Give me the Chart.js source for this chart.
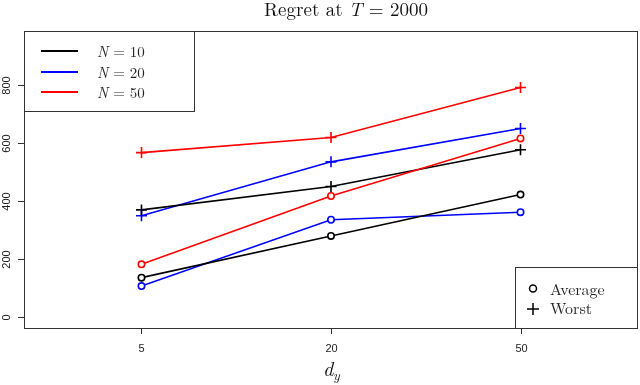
<!DOCTYPE html>
<html lang="en">
<head>
<meta charset="UTF-8">
<title>Regret at T = 2000</title>
<script src="https://cdn.jsdelivr.net/npm/chart.js"></script>
<style>
    body { margin: 0; background: #fff; }
    #wrap { width: 640px; height: 385px; }
</style>
</head>
<body>
<div id="wrap"><canvas id="chartCanvas" width="640" height="385"></canvas></div>
<script>
// values
const categories = ['5', '20', '50'];
const avgN10 = [136, 280, 423];
const avgN20 = [107, 336, 362];
const avgN50 = [182, 418, 617];
const worstN10 = [370, 451, 578];
const worstN20 = [350, 536, 651];
const worstN50 = [568, 620, 793];
const yTicks = [0, 200, 400, 600, 800];

const seriesNames = ['N = 10', 'N = 20', 'N = 50'];
const colors = ['#000000', '#0000ff', '#ff0000'];

function pts(vals) {
    return vals.map((v, i) => ({ x: i + 1, y: v }));
}

function lineSet(vals, color, style) {
    const avg = style === 'circle';
    return {
        data: pts(vals),
        borderColor: color,
        borderWidth: 1.6,
        pointStyle: style,
        pointRadius: avg ? 3.2 : 5.5,
        pointBorderWidth: 1.6,
        pointBorderColor: color,
        pointBackgroundColor: '#ffffff',
        tension: 0,
        fill: false
    };
}

const datasets = [
    lineSet(avgN10, colors[0], 'circle'),
    lineSet(avgN20, colors[1], 'circle'),
    lineSet(avgN50, colors[2], 'circle'),
    lineSet(worstN10, colors[0], 'cross'),
    lineSet(worstN20, colors[1], 'cross'),
    lineSet(worstN50, colors[2], 'cross')
];

// draws the R-style box, ticks, title and both legends
const decor = {
    id: 'decor',
    afterDraw(chart) {
        const ctx = chart.ctx;
        const a = chart.chartArea;
        const xs = chart.scales.x, ys = chart.scales.y;
        ctx.save();
        ctx.strokeStyle = '#333';
        ctx.lineWidth = 1;
        ctx.strokeRect(a.left + 0.5, a.top + 0.5, a.right - a.left - 1, a.bottom - a.top);

        // x ticks
        ctx.fillStyle = '#222';
        ctx.font = '11px "Liberation Sans", Arial, sans-serif';
        ctx.textAlign = 'center';
        ctx.textBaseline = 'middle';
        categories.forEach((c, i) => {
            const px = Math.round(xs.getPixelForValue(i + 1)) + 0.5;
            ctx.beginPath();
            ctx.moveTo(px, a.bottom);
            ctx.lineTo(px, a.bottom + 6);
            ctx.stroke();
            ctx.fillText(c, px, 349);
        });

        // y ticks, labels rotated like R
        yTicks.forEach(t => {
            const py = Math.round(ys.getPixelForValue(t)) + 0.5;
            ctx.beginPath();
            ctx.moveTo(a.left - 6, py);
            ctx.lineTo(a.left, py);
            ctx.stroke();
            ctx.save();
            ctx.translate(7, py);
            ctx.rotate(-Math.PI / 2);
            ctx.fillText(String(t), 0, 0);
            ctx.restore();
        });

        // title with italic T
        const serif = '"Latin Modern Roman", "CMU Serif", "DejaVu Serif", serif';
        const parts = [
            ['Regret at ', '19px ' + serif],
            ['T', 'italic 19px ' + serif],
            [' = 2000', '19px ' + serif]
        ];
        let w = 0;
        parts.forEach(p => { ctx.font = p[1]; w += ctx.measureText(p[0]).width; });
        let x = 346 - w / 2;
        ctx.fillStyle = '#111';
        ctx.textAlign = 'left';
        ctx.textBaseline = 'alphabetic';
        parts.forEach(p => { ctx.font = p[1]; ctx.fillText(p[0], x, 16); x += ctx.measureText(p[0]).width; });

        // x axis label d_y
        ctx.font = 'italic 20px ' + serif;
        const dw = ctx.measureText('d').width;
        ctx.fillText('d', 331 - dw / 2 - 3, 376);
        ctx.font = 'italic 14px ' + serif;
        ctx.fillText('y', 331 + dw / 2 - 3, 380);

        // legend for N
        ctx.fillStyle = '#fff';
        ctx.fillRect(a.left, a.top, 171, 81);
        ctx.strokeStyle = '#333';
        ctx.strokeRect(a.left + 0.5, a.top + 0.5, 170, 80);
        const ly = [51, 72, 92];
        seriesNames.forEach((n, i) => {
            ctx.strokeStyle = colors[i];
            ctx.lineWidth = 1.8;
            ctx.beginPath();
            ctx.moveTo(41, ly[i]);
            ctx.lineTo(78, ly[i]);
            ctx.stroke();
            ctx.fillStyle = '#222';
            ctx.textBaseline = 'middle';
            ctx.font = 'italic 15px ' + serif;
            ctx.fillText('N', 97, ly[i] + 1);
            const nw = ctx.measureText('N').width;
            ctx.font = '15px ' + serif;
            ctx.fillText(n.slice(1), 97 + nw, ly[i] + 1);
        });

        // legend for marker type
        ctx.lineWidth = 1;
        ctx.fillStyle = '#fff';
        ctx.fillRect(515, 267, a.right - 515, a.bottom - 267);
        ctx.strokeStyle = '#333';
        ctx.strokeRect(515.5, 267.5, a.right - 516, a.bottom - 267);
        ctx.strokeStyle = '#000';
        ctx.lineWidth = 1.5;
        ctx.beginPath();
        ctx.arc(533, 288.5, 3.5, 0, Math.PI * 2);
        ctx.stroke();
        ctx.beginPath();
        ctx.moveTo(527, 309); ctx.lineTo(539, 309);
        ctx.moveTo(533, 303); ctx.lineTo(533, 315);
        ctx.stroke();
        ctx.fillStyle = '#222';
        ctx.font = '16px ' + serif;
        ctx.textBaseline = 'middle';
        ctx.fillText('Average', 550, 290);
        ctx.fillText('Worst', 550, 309);
        ctx.restore();
    }
};

new Chart(document.getElementById('chartCanvas').getContext('2d'), {
    type: 'line',
    data: { datasets: datasets },
    options: {
        responsive: false,
        animation: false,
        layout: { autoPadding: false, padding: { left: 24, right: 2, top: 31, bottom: 57 } },
        plugins: { legend: { display: false }, tooltip: { enabled: false }, title: { display: false } },
        scales: {
            x: { type: 'linear', min: 0.38, max: 3.62, display: false },
            y: { min: -38, max: 988, display: false }
        }
    },
    plugins: [decor]
});
</script>
</body>
</html>
